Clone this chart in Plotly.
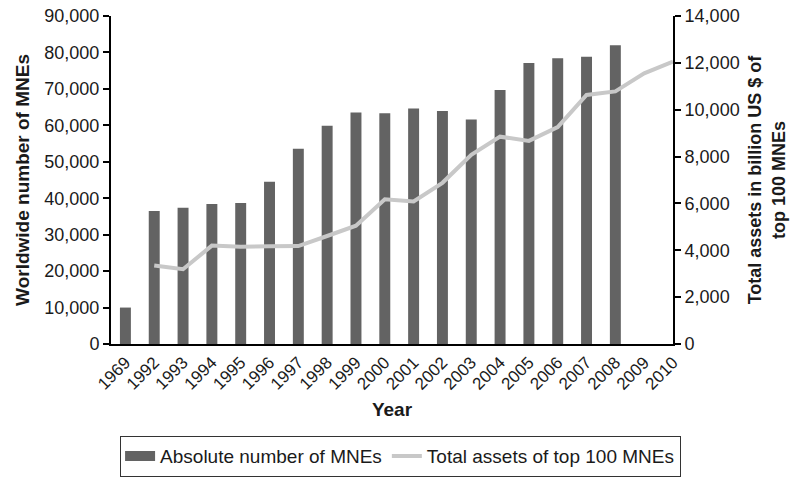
import plotly.graph_objects as go

# Years on the category axis
years = ["1969", "1992", "1993", "1994", "1995", "1996", "1997", "1998", "1999", "2000",
         "2001", "2002", "2003", "2004", "2005", "2006", "2007", "2008", "2009", "2010"]

# Worldwide number of multinational enterprises (1969-2008)
mne_years = ["1969", "1992", "1993", "1994", "1995", "1996", "1997", "1998", "1999", "2000",
             "2001", "2002", "2003", "2004", "2005", "2006", "2007", "2008"]
mne_count = [10000, 36500, 37400, 38400, 38700, 44500, 53600, 59900, 63500, 63300,
             64600, 63900, 61600, 69700, 77100, 78400, 78800, 82000]

# Total assets of the top 100 MNEs, billion US $ (1992-2010)
asset_years = ["1992", "1993", "1994", "1995", "1996", "1997", "1998", "1999", "2000",
               "2001", "2002", "2003", "2004", "2005", "2006", "2007", "2008", "2009", "2010"]
asset_values = [3350, 3190, 4200, 4150, 4170, 4180, 4610, 5050, 6180,
                6080, 6880, 8070, 8850, 8670, 9260, 10630, 10780, 11550, 12050]

FONT = "Liberation Sans, Arial, sans-serif"
TXT = "#1a1a1a"
BAR = "#636363"
LINE = "#c8c8c8"

fig = go.Figure()
fig.add_trace(go.Bar(
    x=mne_years, y=mne_count, name="Absolute number of MNEs",
    marker=dict(color=BAR, line=dict(width=0)), yaxis="y",
    showlegend=False, legendgroup="mne",
))
# legend key for the bars: a wide filled block
fig.add_trace(go.Scatter(
    x=[None], y=[None], name="Absolute number of MNEs", mode="lines",
    line=dict(color=BAR, width=12), legendgroup="mne", showlegend=True,
))
fig.add_trace(go.Scatter(
    x=asset_years, y=asset_values, name="Total assets of top 100 MNEs",
    mode="lines", line=dict(color=LINE, width=4), yaxis="y2",
))

fig.update_layout(
    width=806, height=480,
    margin=dict(l=111, r=133, t=16, b=136),
    paper_bgcolor="white", plot_bgcolor="white",
    font=dict(family=FONT, size=18, color=TXT),
    bargap=0.62,
    showlegend=True,
    legend=dict(
        orientation="h", xref="container", x=0.497, xanchor="center",
        yref="container", y=0.092, yanchor="top",
        bordercolor="#333333", borderwidth=1.2,
        font=dict(family=FONT, size=19, color=TXT),
        tracegroupgap=0,
    ),
    xaxis=dict(
        type="category", categoryorder="array", categoryarray=years,
        tickangle=-45, tickfont=dict(size=17), automargin=False,
        showline=True, linecolor="black", linewidth=2,
        ticks="", showgrid=False,
        title=dict(text="<b>Year</b>", font=dict(size=19), standoff=10),
    ),
    yaxis=dict(
        range=[0, 90000], tickvals=list(range(0, 90001, 10000)),
        tickformat=",d", showgrid=False, automargin=False,
        tickfont=dict(size=18),
        showline=True, linecolor="black", linewidth=2,
        ticks="outside", ticklen=6, tickcolor="black", tickwidth=1.5,
        title=dict(text="<b>Worldwide number of MNEs</b>", font=dict(size=19), standoff=10),
    ),
    yaxis2=dict(
        overlaying="y", side="right", automargin=False,
        range=[0, 14000], tickvals=list(range(0, 14001, 2000)),
        tickformat=",d", showgrid=False,
        tickfont=dict(size=18),
        showline=True, linecolor="black", linewidth=2,
        ticks="outside", ticklen=6, tickcolor="black", tickwidth=1.5,
        title=dict(text="<b>Total assets in billion US $ of<br>top 100 MNEs</b>",
                   font=dict(size=18), standoff=10),
    ),
)

fig.write_html("out.html")
